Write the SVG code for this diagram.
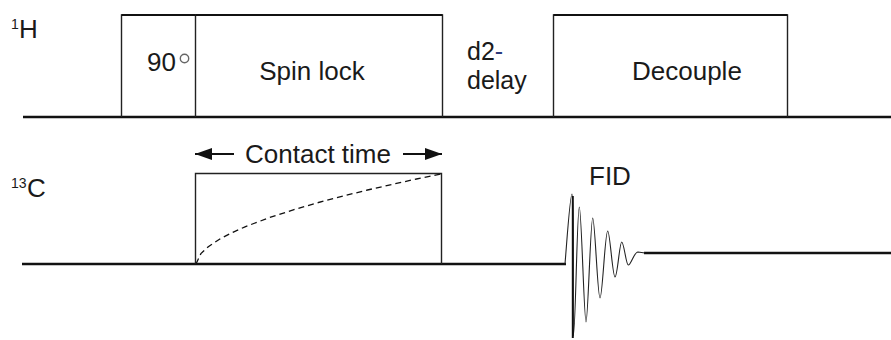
<svg xmlns="http://www.w3.org/2000/svg" width="891" height="340" viewBox="0 0 891 340">
<style>
  text { font-family: "Liberation Sans", Arial, sans-serif; font-size: 26px; fill: #1a1a1a; }
  .sup { font-size: 14px; }
  .small { font-size: 25px; }
  .base { stroke: #111; stroke-width: 2.6; fill: none; }
  .box { stroke: #222; stroke-width: 1.4; fill: none; }
  .top { stroke: #111; stroke-width: 2.2; fill: none; }
  .dash { stroke: #111; stroke-width: 1.3; fill: none; stroke-dasharray: 6 4; }
  .fid { stroke: #222; stroke-width: 1.1; fill: none; }
  .arrow { stroke: #111; stroke-width: 2; fill: none; }
</style>
<defs>
  <marker id="ah" markerUnits="userSpaceOnUse" markerWidth="18" markerHeight="14" refX="17" refY="6" orient="auto-start-reverse" viewBox="0 0 18 12">
    <path d="M0,0 L17,6 L0,12 z" fill="#111"/>
  </marker>
</defs>

<g id="labels">
  <text x="11" y="29" class="sup">1</text>
  <text x="19" y="38">H</text>
  <text x="11" y="188" class="sup">13</text>
  <text x="27" y="197">C</text>
</g>

<g id="h-channel">
  <line class="base" x1="23" y1="117" x2="891" y2="117"/>
</g>

<g id="pulse90">
  <polyline class="box" points="121.5,117 121.5,15 195.5,15 195.5,117"/>
  <line class="top" x1="121.5" y1="15" x2="195.5" y2="15"/>
  <text x="147" y="71">90</text>
  <circle cx="184.5" cy="58.5" r="4.2" fill="none" stroke="#666" stroke-width="1.4"/>
</g>

<g id="spinlock">
  <polyline class="box" points="195.5,15 442.5,15 442.5,117"/>
  <line class="top" x1="195.5" y1="15" x2="442.5" y2="15"/>
  <text x="312" y="80" text-anchor="middle">Spin lock</text>
</g>

<g id="d2delay">
  <text x="467" y="60" class="small">d2<tspan fill="#2b3a7a">-</tspan></text>
  <text x="467" y="89" class="small">delay</text>
</g>

<g id="decouple">
  <polyline class="box" points="553.5,117 553.5,15 787.5,15 787.5,117"/>
  <line class="top" x1="553.5" y1="15" x2="787.5" y2="15"/>
  <text x="632" y="80">Decouple</text>
</g>

<g id="contact-time">
  <line class="arrow" x1="195" y1="154" x2="234" y2="154" marker-start="url(#ah)"/>
  <text x="245" y="163">Contact time</text>
  <line class="arrow" x1="403" y1="154" x2="442" y2="154" marker-end="url(#ah)"/>
</g>

<g id="c-channel">
  <line class="base" x1="22" y1="264" x2="566" y2="264"/>
  <line class="base" x1="644" y1="253" x2="891" y2="253"/>
</g>

<g id="cp-box">
  <polyline class="box" points="195.5,264 195.5,173.5 441.5,173.5 441.5,264"/>
  <polyline class="dash" points="196,264 200.9,253.6 208.3,246.7 220.5,238.6 232.8,232.3 245,226.8 269.5,217.6 294,209.6 318.5,202.5 343,196.1 367.5,190 392,184.4 416.5,179 441,174"/>
</g>

<g id="fid">
  <text x="589" y="185">FID</text>
  <path class="fid" d="M565,264 C567,240 570,194 572,194 C574,194 572.5,336 573.3,336 C575.5,336 577,207 579.3,207 C581.5,207 584,322 586,322 C588,322 590.5,218 592.7,218 C595,218 597.5,298 600,298 C602.5,298 605,231 607.7,231 C610,231 612.5,277 615,277 C617.5,277 619.5,242 621.7,242 C624,242 626,265 628.3,265 C631,265 634,252 638,252 L645,253"/>
  <line stroke="#111" stroke-width="2" x1="572.8" y1="196" x2="572.8" y2="338"/>
</g>
</svg>
